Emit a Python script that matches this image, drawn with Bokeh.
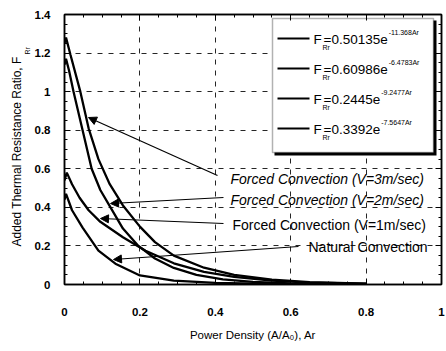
import math
from bokeh.plotting import figure
from bokeh.models import (Range1d, FixedTicker, LinearAxis, Label, Arrow, NormalHead,
                          BoxAnnotation, Title)
from bokeh.embed import file_html
from bokeh.resources import INLINE

# ---------------- data ----------------
x_v3 = [0.0, 0.004, 0.016, 0.042, 0.064, 0.09, 0.12, 0.155, 0.2, 0.24, 0.29, 0.37, 0.45, 0.55, 0.65, 0.8]
y_v3 = [1.25, 1.28, 1.19, 1.0, 0.81, 0.65, 0.52, 0.41, 0.30, 0.22, 0.15, 0.087, 0.05, 0.025, 0.012, 0.004]

x_v2 = [0.0, 0.004, 0.012, 0.024, 0.048, 0.072, 0.095, 0.122, 0.155, 0.196, 0.24, 0.29, 0.35, 0.42, 0.5, 0.6, 0.8]
y_v2 = [1.14, 1.17, 1.11, 1.0, 0.8, 0.6, 0.49, 0.40, 0.29, 0.20, 0.135, 0.086, 0.05, 0.027, 0.014, 0.006, 0.002]

x_v1 = [0.0, 0.006, 0.02, 0.04, 0.064, 0.095, 0.155, 0.215, 0.29, 0.37, 0.45, 0.55, 0.65, 0.8]
y_v1 = [0.54, 0.58, 0.52, 0.45, 0.385, 0.325, 0.245, 0.175, 0.11, 0.065, 0.04, 0.02, 0.01, 0.004]

x_nat = [0.0, 0.004, 0.02, 0.048, 0.09, 0.135, 0.2, 0.29, 0.4, 0.55, 0.7, 0.8]
y_nat = [0.44, 0.47, 0.385, 0.295, 0.176, 0.108, 0.047, 0.02, 0.008, 0.003, 0.001, 0.0005]

x_ticks = [0, 0.2, 0.4, 0.6, 0.8, 1]
x_tick_labels = ["0", "0.2", "0.4", "0.6", "0.8", "1"]
y_ticks = [0, 0.2, 0.4, 0.6, 0.8, 1, 1.2, 1.4]
y_tick_labels = ["0", "0.2", "0.4", "0.6", "0.8", "1", "1.2", "1.4"]

legend_coefs = ["=0.50135e", "=0.60986e", "=0.2445e", "=0.3392e"]
legend_exps = ["-11.368Ar", "-6.4783Ar", "-9.2477Ar", "-7.5647Ar"]

series_notes = ["Forced Convection (V=3m/sec)", "Forced Convection (V=2m/sec)",
                "Forced Convection (V=1m/sec)", "Natural Convection"]

x_title = "Power Density (A/A\u2080), Ar"

FONT = "Liberation Sans"

# ---------------- figure ----------------
W, H = 446, 351
L, R, T, B = 64, 5, 14, 67
p = figure(width=W, height=H, output_backend="svg", toolbar_location=None,
           x_range=Range1d(0, 1), y_range=Range1d(0, 1.4),
           min_border_left=L, min_border_right=R, min_border_top=T, min_border_bottom=B,
           background_fill_color="white", border_fill_color="white")
p.outline_line_color = "black"
p.outline_line_width = 1.5

fw = W - L - R
fh = H - T - B


def X(px):
    return (px - L) / fw * 1.0


def Y(py):
    return (H - B - py) / fh * 1.4


for ax in (p.xaxis[0], p.yaxis[0]):
    ax.axis_line_color = "black"
    ax.axis_line_width = 1.5
    ax.major_tick_in = 6
    ax.major_tick_out = 0
    ax.minor_tick_in = 3
    ax.minor_tick_out = 0
    ax.major_tick_line_color = "black"
    ax.minor_tick_line_color = "black"
    ax.major_label_text_font = FONT
    ax.major_label_text_font_size = "11.5px"
    ax.major_label_text_font_style = "bold"
    ax.major_label_text_color = "black"

p.xaxis[0].ticker = FixedTicker(ticks=x_ticks, minor_ticks=[i * 0.05 for i in range(21)])
p.xaxis[0].major_label_overrides = {t: s for t, s in zip(x_ticks, x_tick_labels)}
p.xaxis[0].major_label_standoff = 23
p.xaxis[0].axis_label = x_title
p.xaxis[0].axis_label_standoff = 10
p.xaxis[0].axis_label_text_font = FONT
p.xaxis[0].axis_label_text_font_size = "11.5px"
p.xaxis[0].axis_label_text_font_style = "normal"
p.xaxis[0].axis_label_text_color = "black"
p.yaxis[0].ticker = FixedTicker(ticks=y_ticks, minor_ticks=[i * 0.05 for i in range(29)])
p.yaxis[0].major_label_overrides = {t: s for t, s in zip(y_ticks, y_tick_labels)}
p.yaxis[0].major_label_standoff = 14

# mirrored axes (ticks only)
for loc, tk, mt in (("right", y_ticks, [i * 0.05 for i in range(29)]),
                    ("above", x_ticks, [i * 0.05 for i in range(21)])):
    ax = LinearAxis(ticker=FixedTicker(ticks=tk, minor_ticks=mt))
    ax.major_tick_in = 6
    ax.major_tick_out = 0
    ax.minor_tick_in = 3
    ax.minor_tick_out = 0
    ax.major_label_overrides = {t: "" for t in tk}
    ax.major_label_standoff = 0
    ax.axis_line_color = "black"
    ax.axis_line_width = 1.5
    p.add_layout(ax, loc)

for g in (p.xgrid[0], p.ygrid[0]):
    g.grid_line_color = "black"
    g.grid_line_dash = "5 6"
    g.grid_line_width = 1
    g.grid_line_alpha = 0.85
p.xgrid[0].ticker = FixedTicker(ticks=x_ticks[1:-1])
p.ygrid[0].ticker = FixedTicker(ticks=y_ticks[1:-1])

# ---------------- y title as side-panel titles ----------------
# subscript first (closest to the axis), then the main text
p.add_layout(Title(text="Rr", align="left", offset=284 - 54, standoff=2,
                   text_font=FONT, text_font_size="7px", text_font_style="normal",
                   text_color="black"), "left")
p.add_layout(Title(text="Added Thermal Resistance Ratio, F", align="left", offset=284 - 246,
                   standoff=-6, text_font=FONT, text_font_size="12px", text_font_style="normal",
                   text_color="black"), "left")

# ---------------- legend box (under the glyphs) ----------------
p.add_layout(BoxAnnotation(left=X(274), right=X(436), top=Y(20), bottom=Y(155),
                           fill_color="black", fill_alpha=1, line_alpha=0, level="underlay"))
p.add_layout(BoxAnnotation(left=X(272), right=X(433), top=Y(18), bottom=Y(152),
                           fill_color="white", fill_alpha=1, line_color="black", line_width=1.5,
                           level="underlay"))

# ---------------- curves ----------------
for xs, ys in ((x_v3, y_v3), (x_v2, y_v2), (x_v1, y_v1), (x_nat, y_nat)):
    p.line(xs, ys, line_color="black", line_width=2.3)

# ---------------- arrows and notes ----------------
arrows = [((217, 175), (88, 117)), ((223, 197), (110, 203)),
          ((223, 223), (100, 218)), ((298, 246), (113, 259))]
for (sx, sy), (ex, ey) in arrows:
    p.add_layout(Arrow(x_start=X(sx), y_start=Y(sy), x_end=X(ex), y_end=Y(ey),
                       line_color="black", line_width=1.2,
                       end=NormalHead(size=8, fill_color="black", line_color="black")))

note_pos = [(230, 178, "italic"), (230, 199, "italic"), (232, 224, "normal"), (308, 246, "normal")]
for txt, (px, py, st) in zip(series_notes, note_pos):
    p.add_layout(Label(x=X(px), y=Y(py), text=txt, text_font=FONT, text_font_size="14px",
                       text_font_style=st, text_baseline="middle", text_align="left",
                       text_color="black"))

# ---------------- legend entries ----------------
CW = {"=": 0.584, ".": 0.278, "e": 0.556}
row_y = [38, 68, 98, 128]
LF = 13.5
for i, (cf, ex) in enumerate(zip(legend_coefs, legend_exps)):
    py = row_y[i]
    p.line([X(277), X(309)], [Y(py), Y(py)], line_color="black", line_width=2)
    p.add_layout(Label(x=X(313), y=Y(py + 1), text="F", text_font=FONT, text_font_size=f"{LF}px",
                       text_baseline="middle", text_color="black"))
    p.add_layout(Label(x=X(322), y=Y(py + 9), text="Rr", text_font=FONT, text_font_size="7px",
                       text_baseline="middle", text_color="black"))
    p.add_layout(Label(x=X(323), y=Y(py + 1), text=cf, text_font=FONT, text_font_size=f"{LF}px",
                       text_baseline="middle", text_color="black"))
    wid = sum(CW.get(c, 0.556) for c in cf) * LF
    p.add_layout(Label(x=X(323 + wid + 1), y=Y(py - 6), text=ex, text_font=FONT,
                       text_font_size="7px", text_baseline="middle", text_color="black"))

open("out.html", "w").write(file_html(p, INLINE))
